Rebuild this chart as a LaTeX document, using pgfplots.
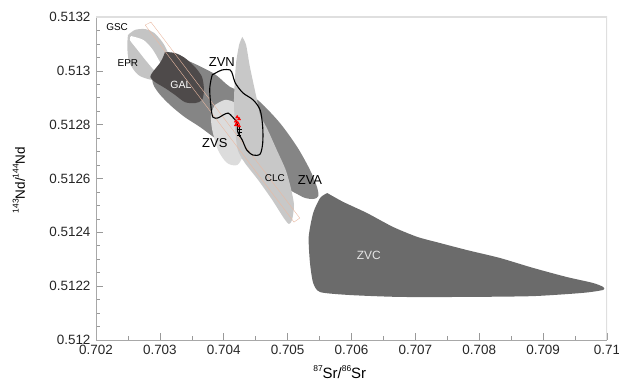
\documentclass[border=0pt]{standalone}
\usepackage{fontspec}
\setmainfont{Liberation Sans}
\usepackage{pgfplots}
\pgfplotsset{compat=1.18}
\definecolor{zva}{HTML}{858585}
\definecolor{gal}{HTML}{4E4A4A}
\definecolor{epr}{HTML}{C4C4C4}
\definecolor{clc}{HTML}{C8C8C8}
\definecolor{zvs}{HTML}{DCDCDC}
\definecolor{zvc}{HTML}{6B6B6B}
\definecolor{axgray}{HTML}{A8A8A8}
\definecolor{peach}{HTML}{E9B9A2}
\newcommand{\sups}[1]{\raisebox{0.45em}{\fontsize{8.5}{9}\selectfont #1}}
\begin{document}
\begin{tikzpicture}
\useasboundingbox (0,0) rectangle (619bp,391bp);
\begin{axis}[
  at={(96bp,51bp)}, anchor=south west,
  scale only axis, width=511bp, height=323bp,
  xmin=0.702, xmax=0.710, ymin=0.512, ymax=0.5132,
  axis x line*=bottom, axis y line*=left,
  axis line style={draw=axgray, line width=0.8bp},
  tick align=inside,
  major tick length=7bp, minor tick length=4.5bp,
  tick style={draw=gray!80, line width=0.6bp},
  xtick={0.702,0.703,0.704,0.705,0.706,0.707,0.708,0.709,0.710},
  xticklabels={0.702,0.703,0.704,0.705,0.706,0.707,0.708,0.709,0.71},
  minor xtick={0.7025,0.7035,0.7045,0.7055,0.7065,0.7075,0.7085,0.7095},
  ytick={0.512,0.5122,0.5124,0.5126,0.5128,0.513,0.5132},
  yticklabels={0.512,0.5122,0.5124,0.5126,0.5128,0.513,0.5132},
  minor ytick={0.51205,0.5121,0.51215,0.51225,0.5123,0.51235,0.51245,0.5125,0.51255,0.51265,0.5127,0.51275,0.51285,0.5129,0.51295,0.51305,0.5131,0.51315},
  scaled x ticks=false, scaled y ticks=false,
  tick label style={font=\fontsize{13.5}{15}\selectfont, text=black!85},
  xticklabel style={yshift=-2bp},
  yticklabel style={xshift=-2bp},
  xlabel={\sups{87}Sr/\sups{86}Sr},
  ylabel={\sups{143}Nd/\sups{144}Nd},
  xlabel style={at={(axis description cs:0.477,0)}, anchor=center, yshift=-32bp, font=\fontsize{15}{17}\selectfont},
  ylabel style={at={(axis description cs:-0.151,0.495)}, anchor=center, font=\fontsize{13.5}{16}\selectfont},
]
% ZVA band
\addplot[draw=none, fill=zva, smooth, tension=0.5] coordinates {
(0.70292,0.513059) (0.70332,0.513048) (0.70383,0.512992) (0.70410,0.512940)
(0.70436,0.512918) (0.70457,0.512884) (0.70488,0.512806) (0.70515,0.512717)
(0.70535,0.512632) (0.70546,0.512568) (0.70548,0.512535) (0.70541,0.512524)
(0.70527,0.512528) (0.70512,0.512546) (0.70488,0.512576) (0.70457,0.512624)
(0.70425,0.512680) (0.70394,0.512736) (0.70363,0.512791) (0.70339,0.512828)
(0.70316,0.512873) (0.70297,0.512921) (0.70288,0.512966) (0.70292,0.513059)};
% EPR light grey
\addplot[draw=none, fill=epr, smooth, tension=0.5] coordinates {
(0.70250,0.513133) (0.70261,0.513152) (0.70277,0.513155) (0.70291,0.513141)
(0.70305,0.513103) (0.70314,0.513059) (0.70319,0.513003) (0.70313,0.512966)
(0.70288,0.512966) (0.70266,0.512985) (0.70252,0.513033) (0.70249,0.513089)
(0.70250,0.513133)};
% EPR white lens
\addplot[draw=none, fill=white, smooth, tension=0.5] coordinates {
(0.70255,0.513129) (0.70274,0.513115) (0.70288,0.513081) (0.70299,0.513037)
(0.70308,0.512996) (0.70296,0.512992) (0.70280,0.513033) (0.70264,0.513081)
(0.70253,0.513115) (0.70255,0.513129)};
% GAL
\addplot[draw=none, fill=gal, smooth, tension=0.5] coordinates {
(0.70308,0.513070) (0.70324,0.513066) (0.70339,0.513048) (0.70355,0.513014)
(0.70366,0.512977) (0.70369,0.512929) (0.70366,0.512892) (0.70355,0.512880)
(0.70339,0.512884) (0.70324,0.512910) (0.70308,0.512936) (0.70292,0.512959)
(0.70285,0.512977) (0.70289,0.512996) (0.70300,0.513029) (0.70305,0.513051)
(0.70308,0.513070)};
% ZVS
\addplot[draw=none, fill=zvs, smooth, tension=0.5] coordinates {
(0.70386,0.512873) (0.70402,0.512892) (0.70418,0.512880) (0.70429,0.512836)
(0.70433,0.512762) (0.70430,0.512687) (0.70421,0.512650) (0.70405,0.512658)
(0.70391,0.512706) (0.70382,0.512780) (0.70380,0.512836) (0.70386,0.512873)};
% CLC
\addplot[draw=none, fill=clc, smooth, tension=0.4] coordinates {
(0.70429,0.513126) (0.70435,0.513096) (0.70441,0.513014) (0.70452,0.512892)
(0.70457,0.512836) (0.70469,0.512780) (0.70483,0.512706) (0.70497,0.512632)
(0.70505,0.512565) (0.70510,0.512502) (0.70507,0.512446) (0.70502,0.512431)
(0.70494,0.512453) (0.70476,0.512520) (0.70454,0.512594) (0.70433,0.512658)
(0.70422,0.512706) (0.70418,0.512780) (0.70416,0.512892) (0.70419,0.513022)
(0.70424,0.513096) (0.70429,0.513126)};
% faint orange strip
\addplot[draw=peach, line width=0.4bp, sharp plot] coordinates {
(0.70277,0.513170) (0.70286,0.513181) (0.70519,0.512453) (0.70510,0.512438) (0.70277,0.513170)};
% ZVC
\addplot[draw=none, fill=zvc, smooth, tension=0.4] coordinates {
(0.70562,0.512546) (0.70587,0.512513) (0.70624,0.512472) (0.70665,0.512420)
(0.70703,0.512383) (0.70739,0.512360) (0.70781,0.512334) (0.70832,0.512305)
(0.70884,0.512268) (0.70937,0.512234) (0.70978,0.512212) (0.70994,0.512197)
(0.70994,0.512186) (0.70962,0.512175) (0.70884,0.512163) (0.70781,0.512160)
(0.70676,0.512160) (0.70598,0.512167) (0.70551,0.512178) (0.70540,0.512212)
(0.70535,0.512286) (0.70533,0.512383) (0.70540,0.512472) (0.70551,0.512528)
(0.70562,0.512546)};
% ZVN outline
\addplot[draw=black, line width=1.1bp, smooth, tension=0.5] coordinates {
(0.70382,0.512985) (0.70397,0.513003) (0.70410,0.513003) (0.70414,0.512985)
(0.70418,0.512955) (0.70430,0.512918) (0.70446,0.512892) (0.70457,0.512854)
(0.70461,0.512791) (0.70461,0.512732) (0.70457,0.512691) (0.70446,0.512687)
(0.70436,0.512706) (0.70429,0.512743) (0.70422,0.512773) (0.70421,0.512806)
(0.70414,0.512828) (0.70407,0.512843) (0.70399,0.512836) (0.70391,0.512825)
(0.70383,0.512828) (0.70380,0.512866) (0.70378,0.512929) (0.70380,0.512966)
(0.70382,0.512985)};
% samples
\addplot[only marks, mark=+, mark size=2bp, black, line width=0.6bp] coordinates {
(0.70425,0.512784) (0.70425,0.512773) (0.70424,0.512762)};
\addplot[only marks, mark=triangle*, mark size=1.8bp, red, mark options={fill=red}] coordinates {
(0.70421,0.512828) (0.70424,0.512821) (0.70419,0.512813) (0.70422,0.512806)
(0.70419,0.512799) (0.70424,0.512795)};
% frame top/right
\draw[draw=gray!25, line width=1.2bp] (rel axis cs:0,1) -- (rel axis cs:1,1) -- (rel axis cs:1,0);
% labels
\node[font=\fontsize{10}{12}\selectfont] at (axis cs:0.70233,0.513163) {GSC};
\node[font=\fontsize{10}{12}\selectfont] at (axis cs:0.70250,0.513029) {EPR};
\node[font=\fontsize{10.5}{12}\selectfont, text=white] at (axis cs:0.70333,0.512947) {GAL};
\node[font=\fontsize{13}{15}\selectfont] at (axis cs:0.70397,0.513033) {ZVN};
\node[font=\fontsize{13}{15}\selectfont] at (axis cs:0.70386,0.512732) {ZVS};
\node[font=\fontsize{10}{12}\selectfont] at (axis cs:0.70480,0.512602) {CLC};
\node[font=\fontsize{13}{15}\selectfont] at (axis cs:0.70535,0.512594) {ZVA};
\node[font=\fontsize{12}{14}\selectfont, text=gray!20] at (axis cs:0.70627,0.512316) {ZVC};
\end{axis}
\end{tikzpicture}
\end{document}
